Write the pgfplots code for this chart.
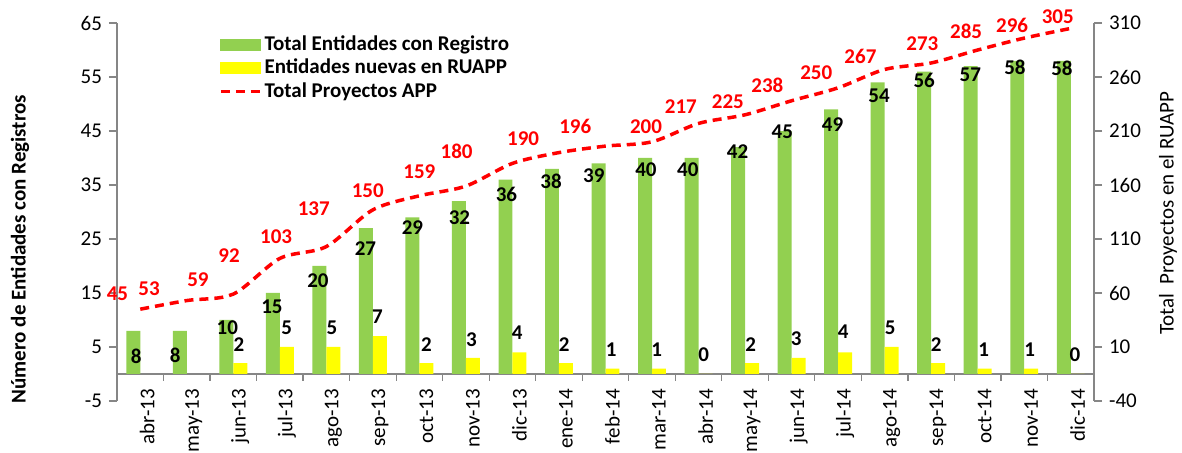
\documentclass[border=0pt]{standalone}
\usepackage{pgfplots}
\pgfplotsset{compat=1.18}
\usepackage{fontspec}
\setmainfont{Carlito}
\definecolor{barGreen}{RGB}{146,208,80}
\definecolor{barYellow}{RGB}{255,255,0}
\definecolor{lineRed}{RGB}{255,0,0}
\definecolor{axGray}{RGB}{134,134,134}

\begin{document}
\begin{tikzpicture}
\pgfplotsset{
  base/.style={
    scale only axis, width=488.5pt, height=189pt,
    xmin=-0.5, xmax=20.5,
    font=\fontsize{10.5}{12}\selectfont,
    /pgf/number format/assume math mode=true,
    tick style={axGray, line width=0.6pt},
    axis line style={axGray, line width=0.6pt, -},
    tick label style={black},
    major tick length=4pt,
    minor tick length=3.5pt,
    tick align=outside,
  },
  lbl/.style={draw=none, forget plot, nodes near coords, point meta=explicit symbolic,
    every node near coord/.append style={anchor=center, font=\fontsize{10.5}{12}\selectfont\bfseries, text=#1}},
}
\begin{axis}[base, name=main,
  ymin=-5, ymax=65, ytick={-5,5,...,65},
  axis y line*=left, axis x line*=middle,
  hide obscured x ticks=false,
  xtick={0,...,20},
  xticklabels={abr-13,may-13,jun-13,jul-13,ago-13,sep-13,oct-13,nov-13,dic-13,ene-14,feb-14,mar-14,abr-14,may-14,jun-14,jul-14,ago-14,sep-14,oct-14,nov-14,dic-14},
  x tick label style={rotate=90, anchor=east, yshift=-3.5pt},
  major x tick style={draw=none},
  minor xtick={0.5,1.5,...,19.5},
  ylabel={Número de Entidades con Registros},
  every axis y label/.style={at={(axis description cs:-0.0993,0.402)}, rotate=90, anchor=center, font=\fontsize{10.5}{12}\selectfont\bfseries},
  clip=false,
]
\addplot[ybar, bar width=0.3, bar shift=-0.15, fill=barGreen, draw=none] coordinates {
(0,8)(1,8)(2,10)(3,15)(4,20)(5,27)(6,29)(7,32)(8,36)(9,38)(10,39)(11,40)(12,40)(13,42)(14,45)(15,49)(16,54)(17,56)(18,57)(19,58)(20,58)};
\addplot[ybar, bar width=0.3, bar shift=0.15, fill=barYellow, draw=none] coordinates {
(2,2)(3,5)(4,5)(5,7)(6,2)(7,3)(8,4)(9,2)(10,1)(11,1)(12,0)(13,2)(14,3)(15,4)(16,5)(17,2)(18,1)(19,1)(20,0)};
% labels of green bars
\addplot[lbl=black] coordinates {
(-0.09,3.2)[8] (0.75,3.4)[8] (1.87,8.6)[10] (2.83,12.4)[15] (3.82,17.3)[20] (4.84,23.2)[27]
(5.85,27.1)[29] (6.86,29.0)[32] (7.87,33.25)[36] (8.83,35.7)[38] (9.75,36.8)[39] (10.87,37.9)[40]
(11.77,37.9)[40] (12.84,41.2)[42] (13.80,44.95)[45] (14.88,46.25)[49] (15.88,51.45)[54]
(16.85,54.4)[56] (17.84,55.35)[57] (18.80,56.8)[58] (19.81,56.6)[58]};
% labels of yellow bars
\addplot[lbl=black] coordinates {
(2.12,5.4)[2] (3.15,8.5)[5] (4.12,8.5)[5] (5.10,10.6)[7] (6.15,5.4)[2] (7.12,6.3)[3] (8.10,7.6)[4]
(9.11,5.4)[2] (10.12,4.5)[1] (11.10,4.5)[1] (12.11,3.5)[0] (13.12,5.4)[2] (14.10,6.5)[3]
(15.11,7.8)[4] (16.12,8.5)[5] (17.11,5.4)[2] (18.13,4.5)[1] (19.12,4.5)[1] (20.09,3.5)[0]};
\end{axis}

\begin{axis}[base,
  ymin=-40, ymax=310, ytick={-40,10,...,310},
  axis y line*=right, axis x line=none, xtick=\empty,
  ylabel={Total\ \ Proyectos en el RUAPP},
  every axis y label/.style={at={(axis description cs:1.0757,0.497)}, rotate=90, anchor=center, font=\fontsize{10.5}{12}\selectfont},
  clip=false,
  legend style={at={(0.104,0.975)}, anchor=north west, draw=none, fill=none, inner sep=0pt,
    font=\fontsize{10.5}{12}\selectfont\bfseries, row sep=0pt,
    nodes={inner sep=1pt, text height=7.75pt, text depth=2pt}},
  legend cell align=left,
]
\addlegendimage{legend image code/.code={\fill[barGreen] (0pt,-2.75pt) rectangle (20pt,2.75pt);}}
\addlegendentry{Total Entidades con Registro}
\addlegendimage{legend image code/.code={\fill[barYellow] (0pt,-2.75pt) rectangle (20pt,2.75pt);}}
\addlegendentry{Entidades nuevas en RUAPP}
\addplot[lineRed, line width=1.75pt, dash pattern=on 4.5pt off 3pt, smooth,
  legend image code/.code={\draw[lineRed, line width=1.75pt, dash pattern=on 4.5pt off 3pt] (0pt,0pt) -- (20pt,0pt);}] coordinates {
(0,45)(1,53)(2,59)(3,92)(4,103)(5,137)(6,150)(7,159)(8,180)(9,190)(10,196)(11,200)(12,217)(13,225)(14,238)(15,250)(16,267)(17,273)(18,285)(19,296)(20,305)};
\addlegendentry{Total Proyectos APP}
\addplot[lbl=lineRed] coordinates {
(-0.49,59.3)[45] (0.19,64.0)[53] (1.24,72.3)[59] (1.91,94.6)[92] (2.92,112.3)[103] (3.73,137.8)[137]
(4.89,155.0)[150] (6.00,172.6)[159] (6.80,191.2)[180] (8.23,203.2)[190] (9.35,214.4)[196]
(10.87,214.4)[200] (11.62,233.0)[217] (12.63,236.7)[225] (13.48,252.4)[238] (14.53,263.6)[250]
(15.48,279.4)[267] (16.81,290.5)[273] (17.75,302.6)[285] (18.74,308.2)[296] (19.72,315.6)[305]};
\end{axis}
\pgfresetboundingbox
\path ([xshift=-58.5pt,yshift=-26pt]main.south west) rectangle ([xshift=44pt,yshift=11.5pt]main.north east);
\end{tikzpicture}
\end{document}
